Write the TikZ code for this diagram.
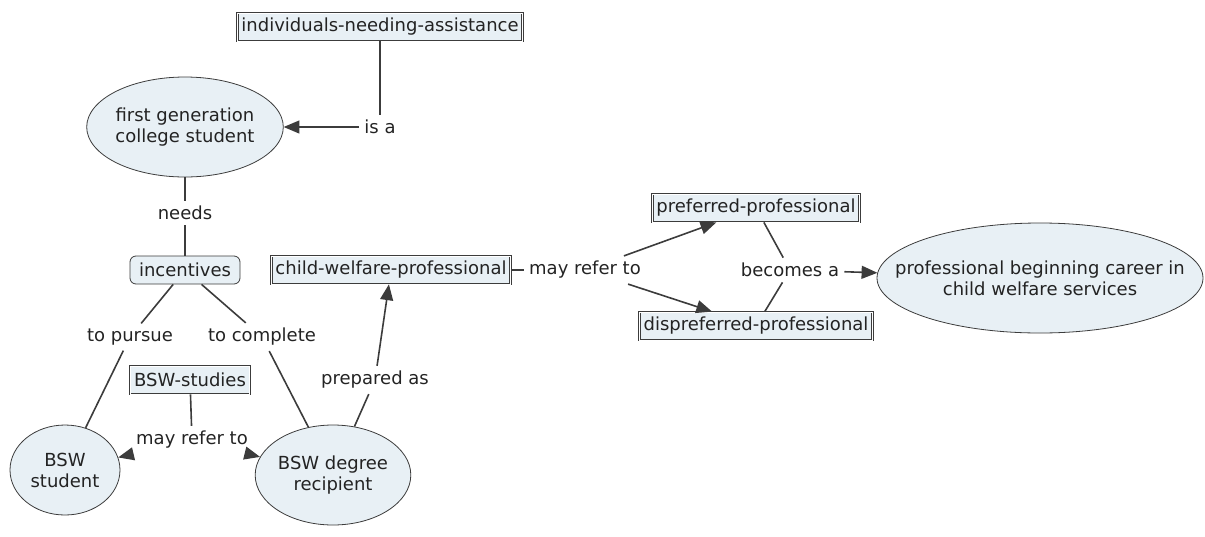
\documentclass[tikz,border=0pt]{standalone}
\usepackage{fontspec}
\setmainfont{DejaVu Sans}
\usepackage{xcolor}
\usepackage{tikz}
\usetikzlibrary{arrows,shapes.geometric}

\definecolor{cfill}{RGB}{232,240,245}
\definecolor{cline}{RGB}{60,60,60}
\definecolor{ctext}{RGB}{35,35,35}

\begin{document}
\begin{tikzpicture}[x=0.5pt, y=-0.5pt, font=\fontsize{9}{10.5}\selectfont, text=ctext]
        \tikzstyle{concept} = [ellipse, draw=cline, fill=cfill, align=center, inner sep=0pt]
        \tikzstyle{block} = [rectangle, draw=cline, double=white, double distance=0.4pt, fill=cfill, inner sep=2pt, minimum height=14pt]
        \tikzstyle{link} = [inner sep=2.5pt]
        \tikzstyle{line} = [cline, thick]
        \tikzstyle{arrow} = [-triangle 45, cline, thick]

        \useasboundingbox (0,0) rectangle (1205,536);

        % concepts
        \node (indiv) [block] at (380,27) {individuals-needing-assistance};
        \node (firstgen) [concept, minimum width=93pt, minimum height=50pt] at (185,127) {first generation\\college student};
        \node (incent) [block, rounded corners=3pt, double=none, minimum width=55pt] at (185,270) {incentives};
        \node (studies) [block] at (190,380) {BSW-studies};
        \node (student) [concept, minimum width=55pt, minimum height=45pt] at (65,470) {BSW\\student};
        \node (degree) [concept, minimum width=75pt, minimum height=50pt] at (333,475) {BSW degree\\recipient};
        \node (cwp) [block] at (391,270) {child-welfare-professional};
        \node (pref) [block] at (756,208) {preferred-professional};
        \node (dispref) [block] at (756,326) {dispreferred-professional};
        \node (career) [concept, inner xsep=-15pt, minimum width=163pt, minimum height=55pt] at (1040,278) {professional beginning career in\\child welfare services};

        % linking phrases
        \node (isa) [link] at (380,127) {is a};
        \node (needs) [link] at (185,213) {needs};
        \node (pursue) [link] at (130,337) {to pursue};
        \node (complete) [link] at (262,337) {to complete};
        \node (refer1) [link] at (192,440) {may refer to};
        \node (prepared) [link] at (375,380) {prepared as};
        \node (refer2) [link] at (585,270) {may refer to};
        \node (becomes) [link] at (790,270) {becomes a};

        \draw[line] (indiv) -- (isa);
        \draw[arrow] (isa) -- (firstgen);
        \draw[line] (firstgen) -- (needs);
        \draw[line] (needs) -- (incent);
        \draw[line] (incent) -- (pursue);
        \draw[line] (incent) -- (complete);
        \draw[line] (pursue) -- (student);
        \draw[line] (complete) -- (degree);
        \draw[line] (studies) -- (refer1);
        \draw[arrow] (refer1) -- (student);
        \draw[arrow] (refer1) -- (degree);
        \draw[line] (degree) -- (prepared);
        \draw[arrow] (prepared) -- (cwp);
        \draw[line] (cwp) -- (refer2);
        \draw[arrow] (refer2) -- (pref);
        \draw[arrow] (refer2) -- (dispref);
        \draw[line] (pref) -- (becomes);
        \draw[line] (dispref) -- (becomes);
        \draw[arrow] (becomes) -- (career);
    \end{tikzpicture}
\end{document}
